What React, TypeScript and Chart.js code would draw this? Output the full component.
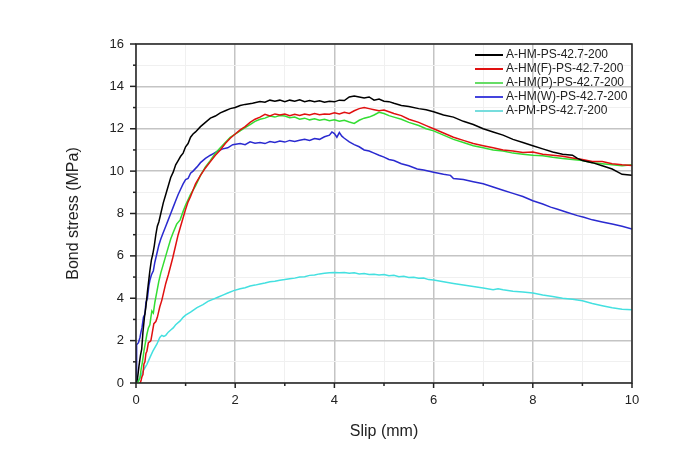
import React, { useEffect, useRef } from "react";
import { Chart, registerables } from "chart.js";

Chart.register(...registerables);

const seriesNames = [
  "A-HM-PS-42.7-200",
  "A-HM(F)-PS-42.7-200",
  "A-HM(P)-PS-42.7-200",
  "A-HM(W)-PS-42.7-200",
  "A-PM-PS-42.7-200",
];

const seriesColors = ["#000000", "#e01010", "#33dd33", "#2a2ad0", "#44e0e0"];
const legendColors = ["#000000", "#e01010", "#66dd66", "#4444dd", "#77dddd"];

const xTicks = [0, 2, 4, 6, 8, 10];
const yTicks = [0, 2, 4, 6, 8, 10, 12, 14, 16];

const blackData: number[][] = [
  [0, 0], [0.03, 0.2], [0.06, 0.8], [0.09, 1.3], [0.115, 1.6], [0.14, 2.4], [0.17, 3.1], [0.2, 3.6],
  [0.23, 4.3], [0.26, 4.9], [0.28, 5.3], [0.31, 5.8], [0.34, 6.1], [0.37, 6.5], [0.4, 7.0], [0.43, 7.4],
  [0.46, 7.6], [0.5, 8.0], [0.55, 8.5], [0.6, 8.9], [0.65, 9.3], [0.7, 9.7], [0.75, 9.95], [0.8, 10.3],
  [0.85, 10.5], [0.9, 10.7], [0.95, 10.85], [1.0, 11.15], [1.05, 11.3], [1.1, 11.6], [1.15, 11.75],
  [1.2, 11.85], [1.3, 12.1], [1.4, 12.3], [1.5, 12.5], [1.6, 12.6], [1.7, 12.75], [1.8, 12.85],
  [1.9, 12.95], [2.0, 13.0], [2.1, 13.1], [2.2, 13.15], [2.35, 13.2], [2.5, 13.28], [2.6, 13.25],
  [2.7, 13.35], [2.8, 13.3], [2.9, 13.35], [3.0, 13.28], [3.1, 13.35], [3.2, 13.3], [3.3, 13.37],
  [3.4, 13.28], [3.5, 13.33], [3.6, 13.27], [3.7, 13.32], [3.8, 13.25], [3.9, 13.3], [4.0, 13.27],
  [4.1, 13.35], [4.2, 13.33], [4.3, 13.5], [4.4, 13.55], [4.5, 13.5], [4.6, 13.45], [4.7, 13.5],
  [4.8, 13.35], [4.9, 13.4], [5.0, 13.3], [5.1, 13.28], [5.2, 13.2], [5.35, 13.1], [5.5, 13.05],
  [5.7, 12.95], [5.85, 12.9], [6.0, 12.8], [6.2, 12.65], [6.4, 12.55], [6.6, 12.35], [6.8, 12.2],
  [7.0, 12.0], [7.2, 11.85], [7.4, 11.7], [7.6, 11.5], [7.8, 11.35], [8.0, 11.2], [8.2, 11.05],
  [8.4, 10.9], [8.6, 10.8], [8.8, 10.75], [8.9, 10.6], [9.0, 10.5], [9.2, 10.4], [9.4, 10.25],
  [9.6, 10.1], [9.8, 9.85], [10.0, 9.8],
];

const redData: number[][] = [
  [0.08, 0], [0.1, 0.1], [0.12, 0.3], [0.14, 0.4], [0.16, 0.9], [0.18, 1.0], [0.2, 1.4], [0.22, 1.5],
  [0.25, 1.9], [0.28, 1.95], [0.3, 2.0], [0.33, 2.4], [0.36, 2.8], [0.4, 2.9], [0.43, 3.1], [0.45, 3.3],
  [0.48, 3.6], [0.52, 3.9], [0.56, 4.3], [0.6, 4.7], [0.65, 5.1], [0.69, 5.45], [0.74, 5.9], [0.8, 6.5],
  [0.85, 7.0], [0.9, 7.4], [0.95, 7.8], [1.0, 8.2], [1.05, 8.55], [1.1, 8.8], [1.2, 9.4], [1.3, 9.8],
  [1.4, 10.15], [1.5, 10.45], [1.6, 10.75], [1.7, 11.0], [1.8, 11.3], [1.9, 11.55], [2.0, 11.75],
  [2.1, 11.95], [2.2, 12.1], [2.3, 12.3], [2.4, 12.45], [2.5, 12.55], [2.6, 12.68], [2.7, 12.6],
  [2.8, 12.7], [2.9, 12.65], [3.0, 12.7], [3.1, 12.62], [3.2, 12.68], [3.3, 12.63], [3.4, 12.7],
  [3.5, 12.65], [3.6, 12.72], [3.7, 12.66], [3.8, 12.7], [3.9, 12.68], [4.0, 12.75], [4.1, 12.7],
  [4.2, 12.78], [4.3, 12.72], [4.4, 12.85], [4.5, 12.95], [4.6, 13.0], [4.7, 12.95], [4.8, 12.9],
  [4.9, 12.85], [5.0, 12.88], [5.1, 12.8], [5.2, 12.72], [5.35, 12.62], [5.5, 12.45], [5.7, 12.3],
  [5.85, 12.15], [6.0, 12.0], [6.2, 11.8], [6.4, 11.6], [6.6, 11.45], [6.8, 11.3], [7.0, 11.2],
  [7.2, 11.1], [7.4, 11.0], [7.6, 10.95], [7.8, 10.88], [8.0, 10.9], [8.2, 10.8], [8.4, 10.75],
  [8.6, 10.7], [8.8, 10.62], [9.0, 10.55], [9.2, 10.45], [9.4, 10.45], [9.6, 10.35], [9.8, 10.3],
  [10.0, 10.27],
];

const greenData: number[][] = [
  [0.03, 0], [0.05, 0.1], [0.08, 0.25], [0.1, 0.6], [0.13, 1.0], [0.16, 1.5], [0.19, 1.9], [0.22, 2.3],
  [0.25, 2.6], [0.28, 2.75], [0.3, 3.1], [0.32, 3.4], [0.35, 3.3], [0.38, 3.8], [0.42, 4.3], [0.46, 4.8],
  [0.5, 5.2], [0.55, 5.6], [0.6, 6.0], [0.65, 6.4], [0.7, 6.8], [0.75, 7.1], [0.82, 7.5], [0.89, 7.7],
  [0.95, 8.1], [1.0, 8.4], [1.1, 8.9], [1.2, 9.3], [1.3, 9.8], [1.4, 10.2], [1.5, 10.5], [1.6, 10.85],
  [1.7, 11.1], [1.8, 11.35], [1.9, 11.6], [2.0, 11.75], [2.1, 11.9], [2.2, 12.05], [2.3, 12.2],
  [2.4, 12.35], [2.5, 12.45], [2.6, 12.5], [2.7, 12.6], [2.8, 12.55], [2.9, 12.62], [3.0, 12.6],
  [3.1, 12.52], [3.2, 12.55], [3.3, 12.45], [3.4, 12.5], [3.5, 12.42], [3.6, 12.47], [3.7, 12.4],
  [3.8, 12.45], [3.9, 12.38], [4.0, 12.42], [4.1, 12.35], [4.2, 12.4], [4.3, 12.32], [4.4, 12.25],
  [4.5, 12.4], [4.6, 12.5], [4.7, 12.55], [4.8, 12.65], [4.9, 12.78], [5.0, 12.72], [5.1, 12.62],
  [5.2, 12.55], [5.35, 12.45], [5.5, 12.3], [5.7, 12.15], [5.85, 12.0], [6.0, 11.9], [6.2, 11.7],
  [6.4, 11.5], [6.6, 11.35], [6.8, 11.2], [7.0, 11.1], [7.2, 11.0], [7.4, 10.95], [7.6, 10.85],
  [7.8, 10.8], [8.0, 10.75], [8.2, 10.72], [8.4, 10.65], [8.6, 10.6], [8.8, 10.55], [9.0, 10.5],
  [9.2, 10.4], [9.4, 10.35], [9.6, 10.3], [9.8, 10.25], [10.0, 10.3],
];

const blueData: number[][] = [
  [0, 0], [0.005, 1.7], [0.02, 1.8], [0.05, 1.9], [0.08, 2.15], [0.1, 2.4], [0.12, 2.6], [0.15, 3.1],
  [0.18, 3.25], [0.2, 3.8], [0.23, 4.0], [0.26, 4.6], [0.28, 4.85], [0.31, 5.1], [0.35, 5.3],
  [0.38, 5.7], [0.42, 6.1], [0.46, 6.5], [0.5, 6.8], [0.55, 7.1], [0.6, 7.4], [0.65, 7.7], [0.7, 8.0],
  [0.75, 8.3], [0.8, 8.6], [0.85, 8.9], [0.89, 9.1], [0.95, 9.4], [1.0, 9.6], [1.05, 9.65], [1.1, 9.9],
  [1.15, 10.0], [1.23, 10.2], [1.3, 10.4], [1.4, 10.6], [1.5, 10.75], [1.56, 10.83], [1.65, 10.95],
  [1.75, 11.05], [1.85, 11.1], [1.95, 11.25], [2.1, 11.3], [2.2, 11.25], [2.3, 11.38], [2.4, 11.32],
  [2.5, 11.35], [2.6, 11.3], [2.7, 11.4], [2.8, 11.35], [2.9, 11.42], [3.0, 11.37], [3.1, 11.45],
  [3.2, 11.4], [3.3, 11.46], [3.4, 11.5], [3.5, 11.45], [3.6, 11.54], [3.7, 11.5], [3.8, 11.62],
  [3.9, 11.7], [3.95, 11.85], [4.0, 11.77], [4.05, 11.6], [4.1, 11.82], [4.15, 11.65], [4.2, 11.55],
  [4.3, 11.38], [4.4, 11.25], [4.5, 11.15], [4.6, 11.0], [4.7, 10.95], [4.8, 10.85], [4.9, 10.75],
  [5.0, 10.66], [5.1, 10.55], [5.2, 10.5], [5.35, 10.35], [5.5, 10.25], [5.67, 10.1], [5.8, 10.05],
  [6.0, 9.95], [6.2, 9.85], [6.34, 9.8], [6.4, 9.65], [6.6, 9.6], [6.8, 9.5], [7.0, 9.4], [7.2, 9.25],
  [7.4, 9.1], [7.6, 8.95], [7.8, 8.8], [8.0, 8.6], [8.2, 8.45], [8.36, 8.3], [8.5, 8.2], [8.7, 8.05],
  [8.9, 7.9], [9.03, 7.82], [9.2, 7.7], [9.4, 7.6], [9.6, 7.5], [9.8, 7.4], [10.0, 7.27],
];

const cyanData: number[][] = [
  [0, 0], [0.05, 0.1], [0.1, 0.35], [0.15, 0.6], [0.22, 0.88], [0.28, 1.2], [0.34, 1.5], [0.42, 1.83],
  [0.48, 2.15], [0.52, 2.25], [0.56, 2.2], [0.6, 2.25], [0.65, 2.4], [0.7, 2.5], [0.75, 2.6],
  [0.8, 2.75], [0.89, 2.93], [0.95, 3.1], [1.0, 3.2], [1.1, 3.35], [1.23, 3.56], [1.35, 3.7],
  [1.45, 3.85], [1.56, 3.96], [1.65, 4.05], [1.75, 4.15], [1.85, 4.25], [1.97, 4.36], [2.1, 4.45],
  [2.2, 4.5], [2.3, 4.58], [2.4, 4.62], [2.5, 4.67], [2.6, 4.72], [2.7, 4.78], [2.8, 4.8], [2.9, 4.85],
  [3.0, 4.88], [3.1, 4.92], [3.2, 4.95], [3.3, 5.0], [3.4, 5.02], [3.5, 5.08], [3.6, 5.1], [3.7, 5.15],
  [3.8, 5.18], [3.9, 5.2], [4.0, 5.22], [4.1, 5.2], [4.2, 5.22], [4.3, 5.18], [4.4, 5.2], [4.5, 5.15],
  [4.6, 5.17], [4.7, 5.12], [4.8, 5.13], [4.9, 5.1], [5.0, 5.12], [5.1, 5.06], [5.2, 5.08],
  [5.3, 5.02], [5.4, 5.04], [5.5, 4.98], [5.6, 4.99], [5.7, 4.94], [5.8, 4.95], [5.9, 4.88],
  [6.0, 4.86], [6.2, 4.78], [6.4, 4.7], [6.6, 4.62], [6.8, 4.55], [7.0, 4.48], [7.2, 4.4],
  [7.3, 4.45], [7.4, 4.4], [7.6, 4.33], [7.8, 4.3], [8.0, 4.25], [8.2, 4.15], [8.4, 4.08], [8.6, 4.0],
  [8.8, 3.95], [9.0, 3.88], [9.2, 3.75], [9.4, 3.65], [9.6, 3.55], [9.8, 3.48], [10.0, 3.46],
];

const allSeries = [blackData, redData, greenData, blueData, cyanData];

const FONT = 'Arial, "Liberation Sans", sans-serif';

const framePlugin = {
  id: "framePlugin",
  afterDraw(chart: any) {
    const { ctx, chartArea } = chart;
    const xs = chart.scales.x;
    const ys = chart.scales.y;
    ctx.save();
    ctx.strokeStyle = "#222";
    ctx.lineWidth = 1.5;
    for (let v = 0; v <= 10; v++) {
      const px = xs.getPixelForValue(v);
      const len = v % 2 === 0 ? 5 : 3;
      ctx.beginPath();
      ctx.moveTo(px, chartArea.bottom);
      ctx.lineTo(px, chartArea.bottom + len);
      ctx.stroke();
    }
    for (let v = 0; v <= 16; v++) {
      const py = ys.getPixelForValue(v);
      const len = v % 2 === 0 ? 6 : 3;
      ctx.beginPath();
      ctx.moveTo(chartArea.left, py);
      ctx.lineTo(chartArea.left - len, py);
      ctx.stroke();
    }
    ctx.strokeRect(chartArea.left, chartArea.top, chartArea.right - chartArea.left, chartArea.bottom - chartArea.top);
    ctx.font = `12px ${FONT}`;
    ctx.textBaseline = "middle";
    ctx.textAlign = "left";
    seriesNames.forEach((name, i) => {
      const y = 55 + i * 14;
      ctx.strokeStyle = legendColors[i];
      ctx.lineWidth = 2;
      ctx.beginPath();
      ctx.moveTo(475, y);
      ctx.lineTo(503, y);
      ctx.stroke();
      ctx.fillStyle = "#222";
      ctx.fillText(name, 506, y);
    });
    ctx.restore();
  },
};

export default function App() {
  const ref = useRef<HTMLCanvasElement | null>(null);
  useEffect(() => {
    if (!ref.current) return;
    const chart = new Chart(ref.current, {
      type: "line",
      data: {
        datasets: allSeries.map((s, i) => ({
          label: seriesNames[i],
          data: s.map(([x, y]) => ({ x, y })),
          borderColor: seriesColors[i],
          backgroundColor: seriesColors[i],
          borderWidth: 1.5,
          pointRadius: 0,
          tension: 0,
          fill: false,
        })),
      },
      options: {
        responsive: false,
        animation: false,
        layout: { padding: { top: 44, right: 63, bottom: 0, left: 0 } },
        plugins: { legend: { display: false }, tooltip: { enabled: false } },
        scales: {
          x: {
            type: "linear",
            min: 0,
            max: 10,
            afterFit: (s: any) => { s.height = 75; },
            afterBuildTicks: (s: any) => {
              s.ticks = Array.from({ length: 11 }, (_, v) => ({ value: v }));
            },
            ticks: {
              autoSkip: false,
              maxRotation: 0,
              padding: 10,
              color: "#222",
              font: { family: FONT, size: 13 },
              callback: (v: any) => (xTicks.includes(Number(v)) ? String(v) : ""),
            },
            grid: {
              drawTicks: false,
              color: (c: any) => (c.tick && c.tick.value % 2 === 0 ? "#c4c4c4" : "#f0f0f0"),
              lineWidth: (c: any) => (c.tick && c.tick.value % 2 === 0 ? 1.5 : 1),
            },
            border: { display: false },
            title: {
              display: true,
              text: "Slip (mm)",
              color: "#222",
              font: { family: FONT, size: 16 },
              padding: { top: 0, bottom: 17 },
            },
          },
          y: {
            type: "linear",
            min: 0,
            max: 16,
            afterFit: (s: any) => { s.width = 136; },
            afterBuildTicks: (s: any) => {
              s.ticks = Array.from({ length: 17 }, (_, v) => ({ value: v }));
            },
            ticks: {
              autoSkip: false,
              padding: 12,
              color: "#222",
              font: { family: FONT, size: 13 },
              callback: (v: any) => (yTicks.includes(Number(v)) ? String(v) : ""),
            },
            grid: {
              drawTicks: false,
              color: (c: any) => (c.tick && c.tick.value % 2 === 0 ? "#c4c4c4" : "#f0f0f0"),
              lineWidth: (c: any) => (c.tick && c.tick.value % 2 === 0 ? 1.5 : 1),
            },
            border: { display: false },
            title: {
              display: true,
              text: "Bond stress (MPa)",
              color: "#222",
              font: { family: FONT, size: 16 },
              padding: { top: 64, bottom: 0 },
            },
          },
        },
      },
      plugins: [framePlugin],
    });
    return () => chart.destroy();
  }, []);
  return (
    <div style={{ position: "absolute", left: 0, top: 0, width: 695, height: 458, background: "#fff" }}>
      <canvas ref={ref} width={695} height={458} />
    </div>
  );
}
